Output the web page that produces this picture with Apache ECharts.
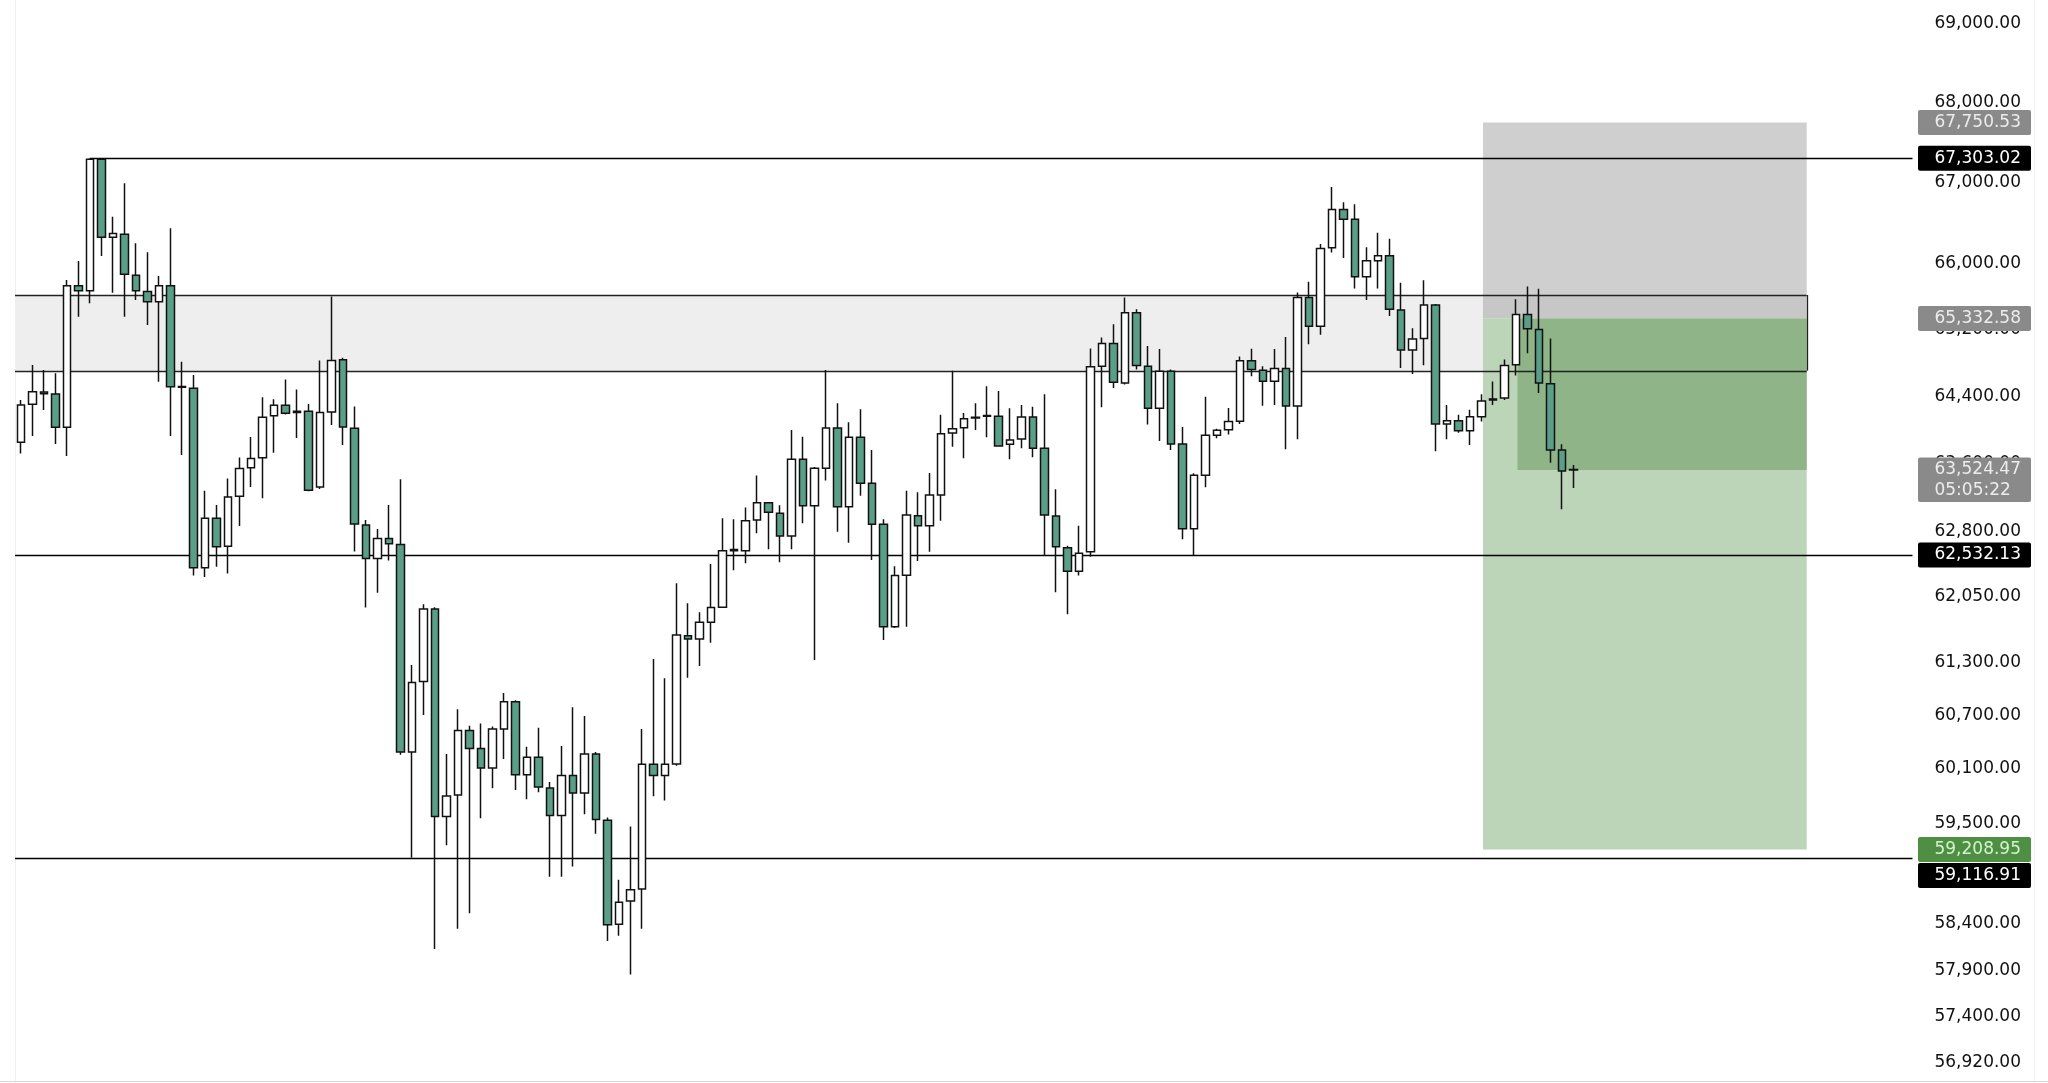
<!DOCTYPE html>
<html>
<head>
<meta charset="utf-8">
<script src="https://cdn.jsdelivr.net/npm/echarts@6/dist/echarts.min.js"></script>
<style>
html,body{margin:0;padding:0;background:#ffffff;}
#chart{width:2048px;height:1083px;}
</style>
</head>
<body>
<div id="chart"></div>
<script>
// ---------- DATA ----------
const opens = [63851,64303,64450,64425,64029,65732,65671,67290,66325,66362,65860,65660,65538,65732,64515,64493,62384,62958,62632,63216,
63552,63670,64165,64292,64220,64220,63324,64211,64836,64018,62880,62491,62723,62654,60290,61083,61910,59573,59810,60530,
60328,60110,60548,60853,60036,60231,59890,59585,60028,59832,60268,59531,58395,58647,58779,60152,60028,60155,61603,61565,
61756,61929,62580,62580,62938,63140,63016,62752,63652,63105,63546,64021,63093,63910,63369,62888,61706,62298,62989,62872,
63232,63962,64024,64140,64160,64159,63827,63890,64151,63780,62985,62617,62345,62569,64758,65030,64557,65404,64758,64255,
64699,63831,62836,63464,63936,63999,64101,64825,64711,64577,64730,64281,65587,65241,66195,66668,66545,65840,66036,66098,
65436,64953,65093,65497,64069,64108,63988,64155,64355,64378,64775,65383,65200,64548,63760,63530];
const highs = [64354,64773,64713,64673,65802,66034,67303.02,67303,66577,66991,66250,66140,65850,66436,64813,64653,63281,63114,63425,63673,
63913,64386,64362,64600,64480,64306,64826,65600,64860,64278,62940,62833,63115,63415,61270,61964,61930,60268,60770,60585,
60610,60575,60954,60870,60349,60561,59955,60358,60793,60692,60290,59563,58880,59464,60548,61339,61120,62206,61974,61871,
62428,62958,62946,63086,63459,63150,63110,63997,63917,63560,64714,64314,64089,64243,63760,62946,62402,63281,63262,63490,
64178,64705,64198,64314,64519,64462,64255,64294,64274,64422,63297,62640,62872,64972,65103,65263,65587,65446,65002,64965,
64719,64033,63487,64392,64013,64260,64875,64967,64758,64965,65110,65648,65781,66241,66946,66755,66730,66201,66380,66306,
65769,65214,65798,65510,64294,64178,64238,64423,64576,64839,65566,65723,65696,65093,63827,63584];
const lows = [63720,63926,64235,63830,63689,65356,65518,66095,65646,65356,65558,65256,64573,63926,63701,62295,62276,62396,62319,62870,
63324,63193,63727,64180,63902,63274,63300,64056,63820,62572,61927,62096,62468,60260,59120,60705,58128,59258,58346,58515,
59555,59885,60212,59867,59765,59843,58912,58912,59023,59598,59383,58215,58272,57855,58346,59797,59750,60135,61126,61258,
61524,61920,62356,62436,62784,62597,62448,62597,62900,61327,63400,62803,62674,63222,62474,61554,61690,61706,62462,62569,
62930,63799,63662,63997,63910,63800,63650,63780,63674,62519,62100,61848,62294,62511,64267,64497,64540,64719,64062,63866,
63760,62713,62533,63321,63898,63945,64069,64639,64284,64294,63768,63887,65022,65136,66136,66070,65698,65558,65698,65363,
64738,64666,64770,63745,63887,63965,63819,64098,64294,64354,64647,64913,64439,63610,63063,63312];
const closes = [64294,64453,64430,64029,65732,65671,67290,66325,66370,65872,65671,65538,65732,64512,64505,62384,62958,62628,63207,63542,
63659,64150,64292,64197,64205,63286,64206,64826,64032,62892,62491,62723,62663,60290,61070,61910,59573,59800,60530,60328,
60110,60548,60853,60036,60231,59899,59585,60028,59832,60268,59540,58390,58634,58770,60152,60028,60152,61611,61565,61756,
61925,62580,62595,62930,63140,63028,62752,63652,63105,63546,64021,63093,63910,63369,62888,61706,62294,62997,62872,63232,
63953,64013,64131,64150,64170,63807,63878,64151,63780,62997,62628,62345,62551,64751,65030,64565,65404,64767,64255,64699,
63830,62836,63464,63936,63993,64098,64825,64719,64577,64730,64281,65587,65241,66188,66668,66545,65840,66036,66098,65444,
64953,65085,65497,64069,64108,63988,64155,64343,64365,64767,65383,65208,64557,63760,63514,63524.47];

// price-axis tick labels
const yTickValues = [69000,68000,67000,66000,65200,64400,63600,62800,62050,61300,60700,60100,59500,58950,58400,57900,57400,56920];
const priceMin = 56734;
const priceMax = 69306;
const slotCount = 165;            // candle slots on the time axis (incl. empty right space)

// horizontal levels: [fromSlot, price]
const levelFrom  = [6, -0.5, -0.5];
const levelPrice = [67303.02, 62532.13, 59116.91];

// supply/demand zone
const zoneTop = 65619, zoneBottom = 64705, zoneEndSlot = 155.3;

// short position tool
const stopPrice = 67750.53, entryPrice = 65332.58, targetPrice = 59208.95, lastPrice = 63524.47;
const positionStartSlot = 127.15, positionEndSlot = 155.3, pnlStartSlot = 130.15;

// price tags on the scale (descending)
const tagPrices = [67750.53, 67303.02, 65332.58, 63524.47, 62532.13, 59208.95, 59116.91];
const tagKinds  = ['stop', 'level', 'entry', 'last', 'level', 'target', 'level'];
const tagExtra  = ['', '', '', '05:05:22', '', '', ''];

// ---------- STYLES ----------
const FONT = '"DejaVu Sans", "Liberation Sans", sans-serif';
const FONT_SIZE = 17;
const tagStyles = {
  stop:   {bg: '#8a8a8a', fg: '#ececec'},
  entry:  {bg: '#8a8a8a', fg: '#ececec'},
  last:   {bg: '#8a8a8a', fg: '#ececec'},
  level:  {bg: '#000000', fg: '#ffffff'},
  target: {bg: '#4f8f44', fg: '#d4f3cc'}
};
const lastSlot = slotCount - 0.5;
const fmt = v => v.toLocaleString('en-US', {minimumFractionDigits: 2, maximumFractionDigits: 2});
const measureCtx = document.createElement('canvas').getContext('2d');
measureCtx.font = FONT_SIZE + 'px ' + FONT;
const textWidth = s => measureCtx.measureText(s).width;

// ---------- BUILD ----------
const candleData = opens.map((o, i) => [o, closes[i], lows[i], highs[i]]);
const slots = Array.from({length: slotCount}, (_, i) => String(i));

const areaRows = [
  [-0.5, zoneEndSlot, zoneTop, zoneBottom],
  [positionStartSlot, positionEndSlot, stopPrice, entryPrice],
  [positionStartSlot, positionEndSlot, entryPrice, targetPrice],
  [pnlStartSlot, positionEndSlot, entryPrice, lastPrice]
];
const areaFills = ['#eeeeee', 'rgba(160,160,160,0.5)', '#bcd5b8', '#8eb487'];

const lineRows = levelPrice.map((p, i) => [levelFrom[i], lastSlot, p, p])
  .concat([
    [-0.5, zoneEndSlot, zoneTop, zoneTop],
    [-0.5, zoneEndSlot, zoneBottom, zoneBottom],
    [zoneEndSlot, zoneEndSlot, zoneTop, zoneBottom]
  ]);
const lineColors = ['#000', '#000', '#000', '#222', '#222', '#222'];

const chart = echarts.init(document.getElementById('chart'), null, {renderer: 'canvas'});
const crisp = v => Math.round(v) + 0.5;

chart.setOption({
  animation: false,
  backgroundColor: '#ffffff',
  grid: {left: 15, right: 2048 - 15 - slotCount * 11.5, top: 0, bottom: 3, containLabel: false},
  xAxis: [
    {type: 'category', data: slots, boundaryGap: true, show: false},
    {type: 'value', min: -0.5, max: lastSlot, show: false}
  ],
  yAxis: [
    {type: 'log', logBase: 10, min: priceMin, max: priceMax, show: false},
    {
      type: 'value', position: 'right',
      min: Math.log(priceMin), max: Math.log(priceMax),
      axisLine: {show: false}, axisTick: {show: false}, splitLine: {show: false},
      axisLabel: {
        customValues: yTickValues.map(v => Math.log(v)),
        formatter: v => fmt(Math.exp(v)),
        margin: 108.5, align: 'right',
        fontFamily: FONT, fontSize: FONT_SIZE, color: '#111111'
      }
    }
  ],
  graphic: [
    {type: 'line', shape: {x1: 15.5, y1: 0, x2: 15.5, y2: 1081}, style: {stroke: '#eeeeee', lineWidth: 1}, silent: true},
    {type: 'line', shape: {x1: 2034.5, y1: 0, x2: 2034.5, y2: 1081}, style: {stroke: '#efefef', lineWidth: 1}, silent: true},
    {type: 'line', shape: {x1: 0, y1: 1081.5, x2: 2048, y2: 1081.5}, style: {stroke: '#d6d6d6', lineWidth: 1}, silent: true}
  ],
  series: [
    {
      type: 'custom', name: 'areas', xAxisIndex: 1, yAxisIndex: 0, z: 1, silent: true,
      data: areaRows,
      renderItem: (params, api) => {
        const a = api.coord([api.value(0), api.value(2)]);
        const b = api.coord([api.value(1), api.value(3)]);
        return {type: 'rect', shape: {x: a[0], y: a[1], width: b[0] - a[0], height: b[1] - a[1]},
                style: {fill: areaFills[params.dataIndex]}};
      }
    },
    {
      type: 'custom', name: 'levels', xAxisIndex: 1, yAxisIndex: 0, z: 2, silent: true,
      data: lineRows,
      renderItem: (params, api) => {
        const a = api.coord([api.value(0), api.value(2)]);
        const b = api.coord([api.value(1), api.value(3)]);
        const horiz = Math.abs(a[1] - b[1]) < 0.01;
        return {type: 'line',
                shape: horiz ? {x1: a[0], y1: crisp(a[1]), x2: b[0], y2: crisp(b[1])}
                             : {x1: crisp(a[0]), y1: a[1], x2: crisp(b[0]), y2: b[1]},
                style: {stroke: lineColors[params.dataIndex], lineWidth: 1.3}};
      }
    },
    {
      type: 'candlestick', name: 'BTC', xAxisIndex: 0, yAxisIndex: 0, z: 4,
      data: candleData, barWidth: 8,
      itemStyle: {color: '#ffffff', color0: '#5a9e88', borderColor: '#111111', borderColor0: '#111111', borderWidth: 1.5}
    },
    {
      type: 'custom', name: 'tags', xAxisIndex: 1, yAxisIndex: 0, z: 10, silent: true, clip: false,
      data: tagPrices.map(p => [lastSlot, p]),
      renderItem: (params, api) => {
        // stack tags downward when they would overlap
        let prevBottom = -Infinity, top = 0, h = 0, cy = 0;
        for (let j = 0; j <= params.dataIndex; j++) {
          const y = api.coord([lastSlot, tagPrices[j]])[1];
          const two = tagExtra[j] !== '';
          const above = 12.5, below = two ? 32 : 12.5;
          let t = y - above;
          if (t < prevBottom + 1) t = prevBottom + 1;
          top = t; h = above + below; cy = t + above;
          prevBottom = t + h;
        }
        const i = params.dataIndex;
        const x0 = api.coord([lastSlot, tagPrices[0]])[0] + 5.5;
        const st = tagStyles[tagKinds[i]];
        const main = fmt(tagPrices[i]);
        const textRight = x0 + 103;
        const font = FONT_SIZE + 'px ' + FONT;
        const children = [
          {type: 'rect', shape: {x: x0, y: top, width: 113, height: h, r: 2}, style: {fill: st.bg}},
          {type: 'text', style: {text: main, x: textRight, y: cy,
            align: 'right', verticalAlign: 'middle', fill: st.fg, font: font}}
        ];
        if (tagExtra[i]) {
          children.push({type: 'text', style: {text: tagExtra[i], x: textRight - textWidth(main), y: cy + 20.5,
            align: 'left', verticalAlign: 'middle', fill: st.fg, font: font}});
        }
        return {type: 'group', children};
      }
    }
  ]
});
</script>
</body>
</html>
